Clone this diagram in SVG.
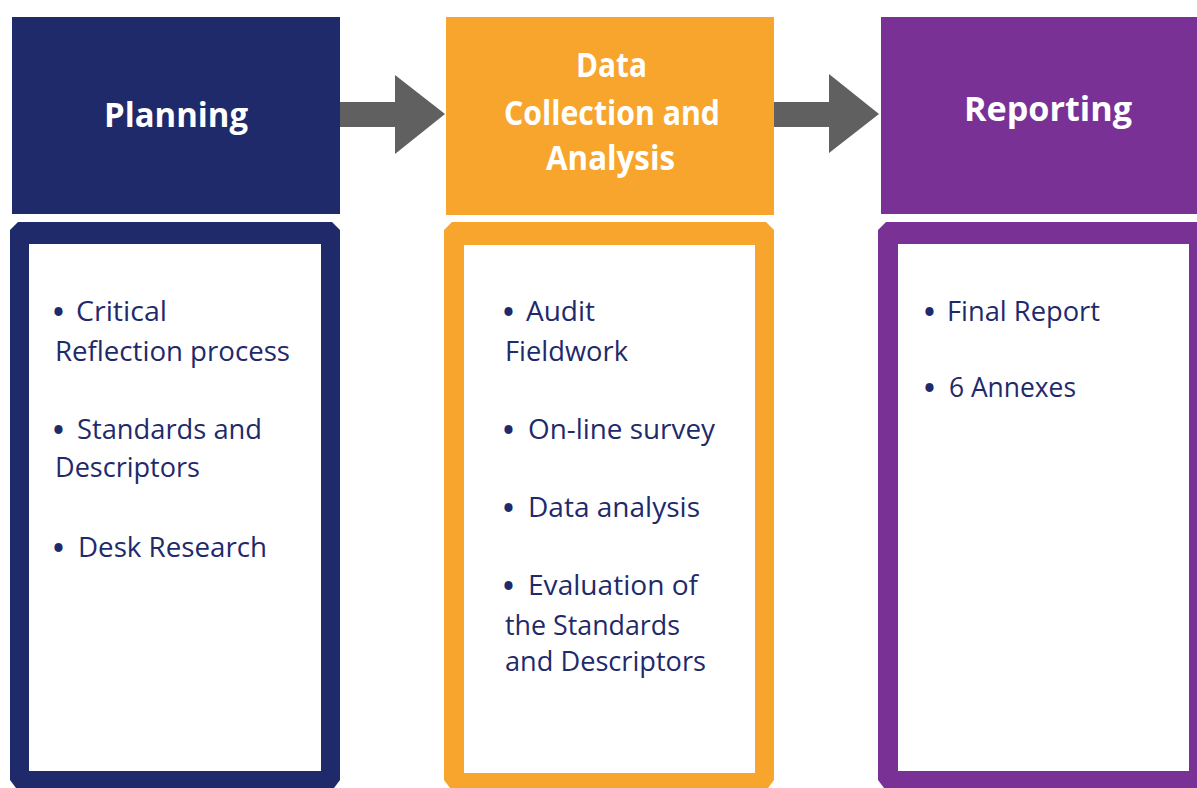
<svg xmlns="http://www.w3.org/2000/svg" width="1197" height="788" viewBox="0 0 1197 788">
<style>
.hd{font-family:"Open Sans","Noto Sans","Liberation Sans",sans-serif;font-weight:bold;font-size:34px;fill:#ffffff}
.bd{font-family:"Open Sans","Noto Sans","Liberation Sans",sans-serif;font-size:27px;fill:#1f2a6b}
.bl{font-family:"Open Sans","Noto Sans","Liberation Sans",sans-serif;font-size:29px;font-weight:bold;fill:#1f2a6b}
.navy{fill:#1f2a6b}
.orange{fill:#f7a52d}
.purple{fill:#7a3196}
.inner{fill:#ffffff}
.arrow{fill:#606060}
</style>
<rect width="1197" height="788" fill="#ffffff"/>
<g id="planning">
<rect class="navy" x="12" y="17" width="328" height="197"/>
<text class="hd" x="104" y="127" textLength="144" lengthAdjust="spacingAndGlyphs">Planning</text>
<path class="navy" d="M18,222 L332,222 L340,230 L340,780 L334,788 L16,788 L10,780 L10,230 Z"/>
<rect class="inner" x="29" y="244" width="292" height="527"/>
<text class="bl" x="53" y="322">•</text>
<text class="bd" x="76" y="321" textLength="91" lengthAdjust="spacingAndGlyphs">Critical</text>
<text class="bd" x="55" y="361" textLength="235" lengthAdjust="spacingAndGlyphs">Reflection process</text>
<text class="bl" x="53" y="440">•</text>
<text class="bd" x="77" y="439" textLength="185" lengthAdjust="spacingAndGlyphs">Standards  and</text>
<text class="bd" x="55" y="477" textLength="145" lengthAdjust="spacingAndGlyphs">Descriptors</text>
<text class="bl" x="53" y="558">•</text>
<text class="bd" x="78" y="557" textLength="189" lengthAdjust="spacingAndGlyphs">Desk Research</text>
</g>
<g id="data-collection">
<rect class="orange" x="446" y="17" width="328" height="198"/>
<text class="hd" x="576" y="77" textLength="71" lengthAdjust="spacingAndGlyphs">Data</text>
<text class="hd" x="504" y="125" textLength="216" lengthAdjust="spacingAndGlyphs">Collection and</text>
<text class="hd" x="546" y="170" textLength="129" lengthAdjust="spacingAndGlyphs">Analysis</text>
<path class="orange" d="M452,222 L766,222 L774,230 L774,780 L768,788 L450,788 L444,780 L444,230 Z"/>
<rect class="inner" x="464" y="245" width="291" height="528"/>
<text class="bl" x="503" y="322">•</text>
<text class="bd" x="526" y="321" textLength="69" lengthAdjust="spacingAndGlyphs">Audit</text>
<text class="bd" x="505" y="361" textLength="123" lengthAdjust="spacingAndGlyphs">Fieldwork</text>
<text class="bl" x="503" y="440">•</text>
<text class="bd" x="528" y="439" textLength="187" lengthAdjust="spacingAndGlyphs">On-line survey</text>
<text class="bl" x="503" y="518">•</text>
<text class="bd" x="528" y="517" textLength="172" lengthAdjust="spacingAndGlyphs">Data analysis</text>
<text class="bl" x="503" y="596">•</text>
<text class="bd" x="528" y="595" textLength="170" lengthAdjust="spacingAndGlyphs">Evaluation of</text>
<text class="bd" x="505" y="635" textLength="175" lengthAdjust="spacingAndGlyphs">the Standards</text>
<text class="bd" x="505" y="671" textLength="201" lengthAdjust="spacingAndGlyphs">and Descriptors</text>
</g>
<g id="reporting">
<rect class="purple" x="881" y="17" width="316" height="197"/>
<text class="hd" x="964" y="121" textLength="168" lengthAdjust="spacingAndGlyphs">Reporting</text>
<path class="purple" d="M886,222 L1197,222 L1197,788 L884,788 L878,780 L878,230 Z"/>
<rect class="inner" x="898" y="244" width="291" height="527"/>
<text class="bl" x="924" y="322">•</text>
<text class="bd" x="947" y="321" textLength="153" lengthAdjust="spacingAndGlyphs">Final Report</text>
<text class="bl" x="924" y="398">•</text>
<text class="bd" x="949" y="397" textLength="127" lengthAdjust="spacingAndGlyphs">6 Annexes</text>
</g>
<g id="connectors">
<polygon class="arrow" points="340,102 395,102 395,75 445,114 395,154 395,127 340,127"/>
<polygon class="arrow" points="774,102 829,102 829,74 879,114 829,153 829,127 774,127"/>
</g>
</svg>
